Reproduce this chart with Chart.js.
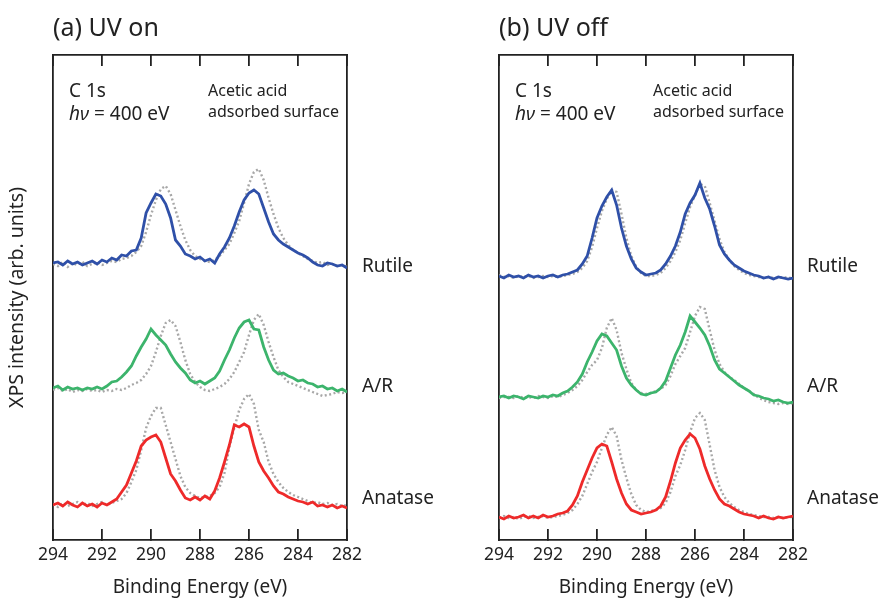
<!DOCTYPE html>
<html>
<head>
<meta charset="utf-8">
<script src="https://cdn.jsdelivr.net/npm/chart.js@4.4.1/dist/chart.umd.min.js"></script>
<style>
  body { margin: 0; background: #fff; }
  #wrap { position: relative; width: 880px; height: 599px; font-family: "Noto Sans", sans-serif; color: #222; }
  canvas { position: absolute; top: 0; }
  .t { position: absolute; white-space: nowrap; transform: translateY(-50%); line-height: 1.2; }
  .panel { font-size: 25px; }
  .note { font-size: 19px; }
  .small { font-size: 16px; line-height: 1.3; }
  .lab { font-size: 19px; }
</style>
</head>
<body>
<div id="wrap">
  <canvas id="chartA" width="440" height="599" style="left:0"></canvas>
  <canvas id="chartB" width="440" height="599" style="left:440px"></canvas>

  <div class="t panel" style="left:53px; top:26px">(a) UV on</div>
  <div class="t panel" style="left:499px; top:26px">(b) UV off</div>

  <div class="t note" style="left:69px; top:90px">C 1s</div>
  <div class="t note" style="left:69px; top:113px"><i>hν</i>&nbsp;= 400 eV</div>
  <div class="t small" style="left:208px; top:101px">Acetic acid<br>adsorbed surface</div>

  <div class="t note" style="left:515px; top:90px">C 1s</div>
  <div class="t note" style="left:515px; top:113px"><i>hν</i>&nbsp;= 400 eV</div>
  <div class="t small" style="left:653px; top:101px">Acetic acid<br>adsorbed surface</div>

  <div class="t lab" style="left:362px; top:265px">Rutile</div>
  <div class="t lab" style="left:362px; top:385px">A/R</div>
  <div class="t lab" style="left:362px; top:497px">Anatase</div>
  <div class="t lab" style="left:807px; top:265px">Rutile</div>
  <div class="t lab" style="left:807px; top:385px">A/R</div>
  <div class="t lab" style="left:807px; top:497px">Anatase</div>
</div>

<script>
// binding energy (eV), 0.2 eV steps
const energy = [294, 293.8, 293.6, 293.4, 293.2, 293, 292.8, 292.6, 292.4, 292.2,
  292, 291.8, 291.6, 291.4, 291.2, 291, 290.8, 290.6, 290.4, 290.2,
  290, 289.8, 289.6, 289.4, 289.2, 289, 288.8, 288.6, 288.4, 288.2,
  288, 287.8, 287.6, 287.4, 287.2, 287, 286.8, 286.6, 286.4, 286.2,
  286, 285.8, 285.6, 285.4, 285.2, 285, 284.8, 284.6, 284.4, 284.2,
  284, 283.8, 283.6, 283.4, 283.2, 283, 282.8, 282.6, 282.4, 282.2, 282];

const sampleNames = ['Rutile', 'A/R', 'Anatase'];
const tickEnergies = [294, 292, 290, 288, 286, 284, 282];

// (a) UV on - measured spectra (intensity incl. stacking offset, arb. units)
const uvOnRutile = [277,278,275,279,276,278,275,277,279,276,280,278,282,280,285,284,289,290,302,327,337,346,344,336,322,300,294,286,284,281,283,279,281,277,286,293,302,314,328,340,347,350,346,332,318,306,300,296,293,290,287,285,282,278,275,274,277,276,274,275,272];
const uvOnAR = [152,154,150,153,151,152,150,152,151,153,151,154,158,159,163,168,174,184,193,201,211,205,200,195,186,178,172,167,160,157,159,156,159,162,169,180,190,202,212,218,220,211,210,193,180,170,166,167,164,162,159,160,157,156,153,154,151,152,149,151,148];
const uvOnAnatase = [35,37,34,38,35,33,37,34,36,33,37,35,38,41,48,55,67,79,94,100,103,105,98,82,66,59,50,42,40,43,40,44,41,49,62,78,95,115,113,116,113,94,78,69,62,54,48,46,43,41,39,38,36,38,34,35,33,35,32,34,32];
// (a) reference (dotted)
const uvOnRutileRef = [276,274,278,273,277,275,278,274,276,278,275,277,279,278,281,282,284,288,294,308,325,340,351,354,346,330,314,300,290,284,281,279,278,280,284,290,296,307,319,337,356,368,371,360,342,326,312,302,295,290,287,284,281,279,277,278,275,276,274,275,273];
const uvOnARRef = [150,152,149,151,148,150,149,151,149,150,148,150,149,151,150,152,155,157,160,166,174,188,204,217,220,214,198,180,166,158,153,150,149,151,153,156,161,168,178,188,205,220,226,215,198,183,170,163,158,156,154,152,150,148,146,144,145,146,148,147,148];
const uvOnAnataseRef = [36,33,37,34,36,38,35,37,34,36,38,35,37,39,41,47,58,70,90,112,124,132,132,115,98,81,64,53,47,44,42,43,44,47,53,67,93,112,130,141,146,136,110,98,78,66,58,52,48,45,43,41,39,37,38,36,37,35,36,34,35];

// (b) UV off - measured spectra
const uvOffRutile = [264,262,265,263,264,262,265,263,264,262,264,265,263,265,266,268,270,276,284,302,322,334,343,350,335,312,294,281,272,268,265,266,267,270,276,284,294,308,326,337,345,357,342,331,314,295,286,280,275,272,269,267,265,264,262,263,261,263,262,261,262];
const uvOffAR = [143,144,142,144,143,141,144,143,142,144,143,145,144,147,149,153,158,166,178,188,199,206,204,197,190,174,162,155,150,146,145,147,148,152,159,172,185,195,208,224,218,212,205,194,180,171,167,163,159,155,152,149,145,144,142,141,139,140,138,137,138];
const uvOffAnatase = [23,21,24,22,23,25,22,24,22,25,23,24,26,27,29,35,44,58,70,82,92,96,94,78,61,47,36,30,28,26,27,28,30,34,43,59,77,92,100,106,102,91,74,61,50,41,36,34,31,28,26,25,24,22,24,22,21,23,22,23,24];
// (b) reference (dotted)
const uvOffRutileRef = [265,263,264,262,264,263,264,262,263,264,263,264,263,264,265,266,268,272,279,293,312,329,341,350,348,326,302,284,273,267,264,264,265,267,272,279,288,300,317,333,345,356,354,337,319,301,288,280,274,270,267,265,264,263,262,263,262,262,263,262,262];
const uvOffARRef = [142,143,143,142,144,142,143,142,144,143,142,144,143,145,147,150,154,160,168,175,180,192,212,222,210,187,171,157,150,147,146,147,149,151,155,164,176,184,192,208,224,233,231,210,190,176,168,163,160,156,152,149,146,142,140,138,137,136,137,136,137];
const uvOffAnataseRef = [22,24,22,23,21,23,24,22,23,24,22,23,24,25,27,30,36,44,56,68,78,92,105,113,104,80,62,46,35,30,28,29,30,32,37,48,64,75,90,108,122,127,120,95,70,53,43,37,33,30,28,26,25,24,23,23,22,23,22,23,23];

const colors = ['#2f50a8', '#3cb46c', '#ee2a2a'];
const refColor = '#a8a8a8';
const ink = '#222';
const font = 'Noto Sans';

function pts(vals) {
    return vals.map((v, i) => ({ x: energy[i], y: v }));
}

function makeChart(id, measured, refs, showYTitle, leftW, rightPad) {
    const datasets = [];
    measured.forEach((vals, k) => {
        datasets.push({
            label: sampleNames[k],
            data: pts(vals),
            borderColor: colors[k],
            borderWidth: 2.8,
            pointRadius: 0,
            tension: 0,
            order: 0
        });
    });
    refs.forEach((vals, k) => {
        datasets.push({
            label: sampleNames[k] + ' ref',
            data: pts(vals),
            borderColor: refColor,
            borderWidth: 2.4,
            borderDash: [2, 2.5],
            pointRadius: 0,
            tension: 0,
            order: 1
        });
    });

    const frame = { display: true, color: ink, width: 1.8 };
    const inTicks = {
        display: true, drawOnChartArea: false, drawTicks: true,
        tickLength: -11, color: ink, lineWidth: 1.8
    };

    return new Chart(document.getElementById(id).getContext('2d'), {
        type: 'line',
        data: { datasets: datasets },
        options: {
            responsive: false,
            animation: false,
            layout: { padding: { left: 0, top: 55, right: rightPad, bottom: 0 } },
            plugins: { legend: { display: false }, tooltip: { enabled: false } },
            scales: {
                x: {
                    type: 'linear', position: 'bottom', min: 282, max: 294, reverse: true,
                    afterBuildTicks: s => { s.ticks = tickEnergies.map(v => ({ value: v })); },
                    ticks: { color: ink, font: { family: font, size: 17.5 }, padding: 16, maxRotation: 0 },
                    grid: inTicks,
                    border: frame,
                    title: {
                        display: true, text: 'Binding Energy (eV)', color: ink,
                        font: { family: font, size: 19 }, padding: { top: 0, bottom: 0 }
                    },
                    afterFit: s => { s.height = 59; }
                },
                xTop: {
                    type: 'linear', position: 'top', min: 282, max: 294, reverse: true,
                    afterBuildTicks: s => { s.ticks = tickEnergies.map(v => ({ value: v })); },
                    ticks: { display: false },
                    grid: inTicks,
                    border: frame,
                    afterFit: s => { s.height = 0; }
                },
                y: {
                    position: 'left', min: 0, max: 485,
                    ticks: { display: false },
                    grid: { display: false },
                    border: frame,
                    title: {
                        display: showYTitle, text: 'XPS intensity (arb. units)', color: ink,
                        font: { family: font, size: 19.5 }, padding: { top: 6 }
                    },
                    afterFit: s => { s.width = leftW; }
                },
                yRight: {
                    position: 'right', min: 0, max: 485,
                    ticks: { display: false },
                    grid: { display: false },
                    border: frame,
                    afterFit: s => { s.width = 0; }
                }
            }
        }
    });
}

window.onload = function() {
    makeChart('chartA',
        [uvOnRutile, uvOnAR, uvOnAnatase],
        [uvOnRutileRef, uvOnARRef, uvOnAnataseRef],
        true, 53, 93);
    makeChart('chartB',
        [uvOffRutile, uvOffAR, uvOffAnatase],
        [uvOffRutileRef, uvOffARRef, uvOffAnataseRef],
        false, 59, 87);
};
</script>
</body>
</html>
